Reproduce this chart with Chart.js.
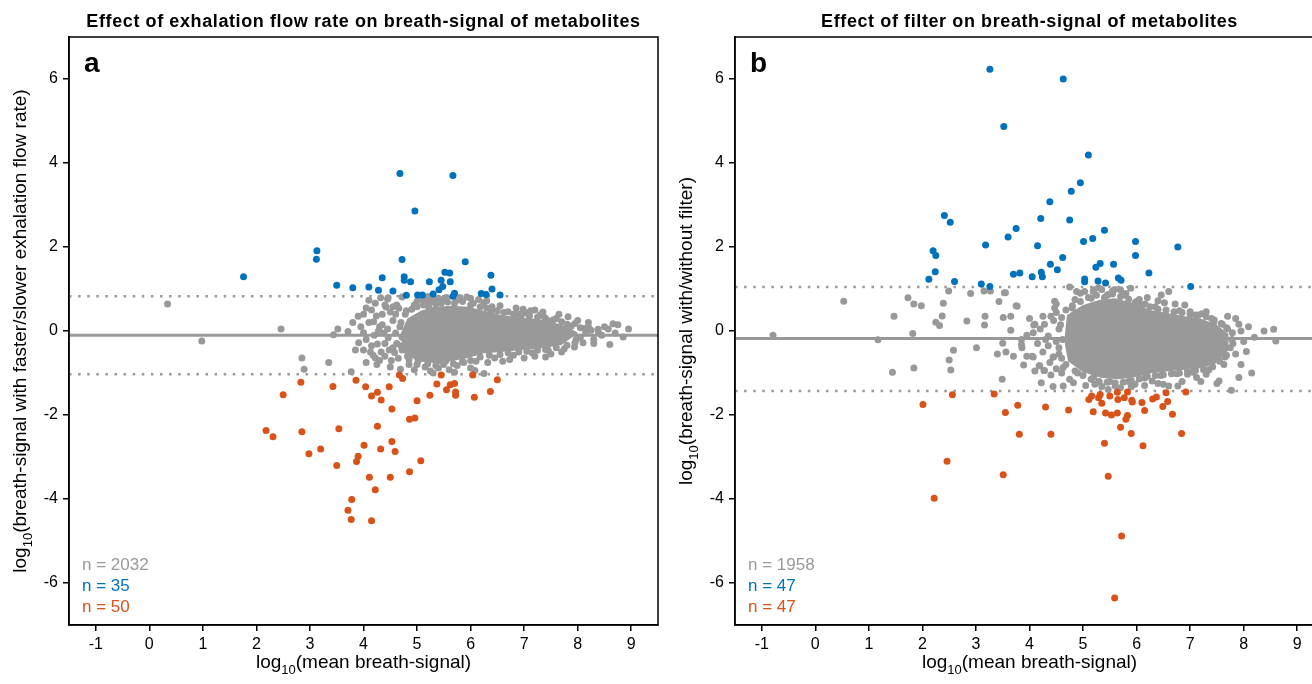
<!DOCTYPE html>
<html>
<head>
<meta charset="utf-8">
<script src="https://cdn.jsdelivr.net/npm/chart.js@4.4.1/dist/chart.umd.min.js"></script>
<style>
  html, body { margin: 0; padding: 0; background: #fff; overflow: hidden; }
  body { width: 1312px; height: 684px; position: relative; }
  canvas { position: absolute; top: 0; }
  #flowChart { left: 0; }
  #filterChart { left: 666px; }
</style>
</head>
<body>
<canvas id="flowChart" width="666" height="684"></canvas>
<canvas id="filterChart" width="666" height="684"></canvas>
<script>
// ---------------------------------------------------------------
// Breath-signal scatter plots (panel a: flow rate, panel b: filter)
// ---------------------------------------------------------------

const FONT = '"Liberation Sans", Arial, Helvetica, sans-serif';
const GRAY = '#999999'; const BLUE = '#0072BD'; const RED = '#D95319';

// Tick labels for both panels
const xTicks = [-1, 0, 1, 2, 3, 4, 5, 6, 7, 8, 9];
const yTicks = [-6, -4, -2, 0, 2, 4, 6];

// ---- Panel a: exhalation flow rate --------------------------------
// reference lines: [median, upper threshold, lower threshold]
const flowLines = [-0.1, 0.83, -1.03];
const flowCounts = ['n = 2032', 'n = 35', 'n = 50'];

// outline of the dense gray core (top edge / bottom edge)
const flowCoreTop = [[4.69,-0.07],[4.82,0.30],[5.07,0.48],[5.31,0.58],[5.63,0.60],[5.95,0.58],[6.25,0.48],[6.57,0.38],[6.89,0.33],[7.19,0.29],[7.50,0.22],[7.82,0.10],[8.01,-0.05]];
const flowCoreBottom = [[4.69,-0.07],[4.75,-0.52],[5.01,-0.72],[5.31,-0.76],[5.63,-0.72],[5.95,-0.64],[6.25,-0.53],[6.57,-0.50],[6.89,-0.46],[7.32,-0.41],[7.69,-0.34],[8.01,-0.05]];

const flowGray = [
  [0.34,0.64],[0.98,-0.24],[2.46,0.05],[2.85,-0.64],[2.89,-0.91],[3.35,-0.75],[3.44,-0.09],[3.52,0.05],[3.71,-0.01],[3.77,-0.97],
  [3.91,-0.28],[4.00,-0.04],[4.05,0.55],[4.10,0.73],[4.13,-0.50],[4.22,0.66],[4.24,0.36],[4.22,-0.64],[4.26,-0.31],[4.33,-0.50],
  [4.32,0.79],[4.46,0.79],[4.42,0.57],[4.46,-0.16],[4.50,-0.86],[4.55,0.58],[4.58,-0.51],[4.66,0.54],[4.69,-0.91],[4.72,0.81],
  [4.80,0.48],[4.82,-0.60],[4.91,-0.20],[5.00,0.71],[5.02,-0.71],[5.19,0.71],[5.22,0.57],[5.35,0.64],[5.44,-0.71],[5.54,-0.71],
  [5.57,0.69],[5.87,-0.75],[5.93,0.81],[6.08,-0.94],[6.25,-1.01],[6.25,0.67],[6.32,-0.75],[6.38,0.48],[6.73,-0.68],[6.88,0.41],
  [7.00,-0.64],[6.98,0.52],[7.12,0.48],[7.38,0.32],[7.47,0.24],[7.82,0.34],[7.80,0.16],[7.97,-0.20],[7.94,-0.38],[8.12,0.06],
  [8.38,0.04],[8.39,-0.04],[8.57,0.05],[8.66,0.17],[8.60,-0.32],[8.85,-0.14],[4.19,0.22],[4.35,0.15],[4.45,0.76],[5.21,0.82],
  [4.30,0.10],[4.40,-0.30],[4.55,0.25],[4.60,-0.05],[4.50,0.45],[4.65,-0.65],[4.40,-0.60],[4.55,-0.40],[4.20,-0.10],[4.10,0.20],
  [4.62,0.62],[4.35,0.40],[4.15,-0.35],[4.05,-0.20],[3.95,0.10],[4.70,0.20],[4.70,-0.35],
  [4.95,0.62],[5.10,0.75],[5.40,0.78],[5.75,0.74],[6.05,0.66],[6.40,0.58],[6.70,0.46],[7.05,0.42],[7.30,0.38],[7.60,0.30],
  [7.95,0.18],[8.20,0.10],[5.55,0.80],[6.15,0.75],
  [4.85,-0.80],[5.15,-0.86],[5.40,-0.88],[5.75,-0.82],[6.10,-0.72],[6.45,-0.64],[6.80,-0.58],[7.15,-0.52],[7.45,-0.46],[7.75,-0.42],
  [8.10,-0.28],[8.30,-0.20],[5.25,-0.95],[5.60,-0.92],
  // ring round the dense core
  [4.78,0.40],[4.90,0.52],[5.00,0.58],[5.12,0.62],[5.28,0.70],[5.45,0.66],[5.70,0.66],[5.85,0.70],[6.00,0.62],[6.18,0.58],
  [6.30,0.55],[6.50,0.48],[6.62,0.44],[6.80,0.40],[6.95,0.38],[7.10,0.36],[7.25,0.33],[7.40,0.30],[7.55,0.27],[7.70,0.22],
  [7.88,0.12],[8.05,0.08],
  [4.72,-0.45],[4.85,-0.68],[5.00,-0.80],[5.20,-0.78],[5.35,-0.82],[5.50,-0.80],[5.68,-0.78],[5.85,-0.72],[6.00,-0.70],[6.18,-0.62],
  [6.35,-0.58],[6.55,-0.56],[6.70,-0.52],[6.90,-0.50],[7.05,-0.48],[7.25,-0.46],[7.40,-0.44],[7.60,-0.40],[7.80,-0.34],[7.95,-0.28],
  // tail towards high signal
  [8.05,-0.15],[8.15,-0.05],[8.25,0.02],[8.45,-0.10],[8.50,0.10],[8.70,-0.05],[8.30,-0.30],[8.20,0.20],[8.00,0.25],[7.70,-0.50],
  [7.50,-0.55],[7.20,-0.60],[7.35,0.45],[7.65,0.40],[8.75,0.15],[8.95,0.05],
  // left flank
  [3.85,-0.45],[3.90,0.35],[4.00,0.40],[4.05,-0.75],[4.15,0.50],[4.25,-0.80],[4.28,0.00],[4.38,-0.05],[4.45,0.05],[4.48,-0.45],
  [4.52,-0.70],[4.60,0.40],[4.62,-0.30],[4.68,0.10],[4.72,-0.15],[4.40,0.62],[4.30,-0.70],[4.00,-0.45],[3.80,0.20],[4.18,-0.58],
  // sparser points towards the thresholds
  [5.05,0.80],[5.30,0.76],[5.48,0.74],[5.80,0.80],[6.00,0.78],[6.30,0.72],[6.55,0.60],[6.85,0.55],[7.20,0.50],
  [4.95,-0.92],[5.30,-1.00],[5.70,-0.98],[6.00,-0.88],[6.60,-0.72],[7.40,-0.62]
];

const flowBlue = [
  [1.76,1.29],[3.13,1.91],[3.12,1.71],[3.50,1.09],[3.80,1.03],[4.10,1.05],[4.28,0.97],[4.35,1.27],[4.68,3.75],[4.72,1.70],
  [4.76,1.29],[4.76,1.21],[4.80,0.85],[4.88,1.17],[4.96,2.86],[5.01,0.86],[5.10,0.86],[5.23,1.17],[5.41,0.98],[5.45,1.21],
  [5.48,1.06],[5.52,1.40],[5.61,1.38],[5.62,1.17],[5.67,3.70],[5.67,0.83],[5.70,0.90],[5.90,1.65],[6.20,0.89],[6.29,0.87],
  [6.38,1.33],[6.40,1.00],[6.55,0.86],[5.30,0.88],[4.55,0.95]
];

const flowRed = [
  [2.83,-1.22],[2.50,-1.52],[3.43,-1.32],[3.86,-1.17],[4.04,-1.33],[4.26,-1.46],[4.33,-1.64],[4.48,-1.33],[4.53,-1.86],[4.67,-1.05],
  [4.73,-1.13],[4.86,-2.10],[4.96,-2.07],[5.00,-1.66],[5.24,-1.53],[5.37,-1.26],[5.45,-1.05],[5.62,-1.28],[5.70,-1.25],[5.72,-1.45],
  [5.72,-1.53],[6.04,-1.05],[6.07,-1.58],[6.37,-1.44],[6.50,-1.16],[2.18,-2.37],[2.31,-2.52],[2.85,-2.40],[3.54,-2.33],[4.26,-2.27],
  [2.98,-2.92],[3.20,-2.81],[3.50,-3.20],[4.01,-2.72],[3.90,-2.98],[3.87,-3.11],[4.32,-2.81],[4.53,-2.63],[4.59,-2.87],[5.07,-3.09],
  [4.86,-3.35],[4.11,-3.48],[4.50,-3.48],[4.22,-3.78],[3.78,-4.01],[3.71,-4.27],[3.77,-4.49],[4.15,-4.52],[5.55,-1.40],[4.15,-1.55]
];

// ---- Panel b: filter ----------------------------------------------
const filterLines = [-0.18, 1.05, -1.43];
const filterCounts = ['n = 1958', 'n = 47', 'n = 47'];

const filterCoreTop = [[4.65,-0.24],[4.70,0.38],[5.00,0.62],[5.30,0.74],[5.60,0.78],[5.95,0.66],[6.25,0.50],[6.60,0.42],[6.90,0.35],[7.20,0.30],[7.50,0.14],[7.72,-0.08]];
const filterCoreBottom = [[4.65,-0.24],[4.72,-0.72],[5.00,-0.98],[5.35,-1.12],[5.66,-1.15],[5.97,-1.10],[6.29,-1.00],[6.60,-0.96],[6.91,-0.92],[7.22,-0.88],[7.47,-0.78],[7.72,-0.45],[7.72,-0.08]];

const filterGray = [
  [-0.79,-0.10],[0.53,0.71],[1.17,-0.21],[1.44,-0.98],[1.47,0.35],[1.73,0.79],[1.84,0.64],[1.98,0.60],[1.82,-0.06],[1.84,-0.88],
  [2.25,0.21],[2.32,0.13],[2.37,0.36],[2.39,0.66],[2.49,0.95],[2.58,-0.46],[2.50,-0.69],[2.53,-0.93],[2.83,0.24],[2.90,0.89],
  [3.01,-0.40],[3.15,0.95],[3.27,0.95],[3.17,0.35],[3.16,0.14],[3.43,0.70],[3.55,0.91],[3.51,0.32],[3.50,-0.29],[3.56,-0.50],
  [3.49,-1.15],[3.65,0.02],[3.77,0.59],[3.89,-0.81],[3.85,-0.33],[4.22,-1.23],[4.44,-1.32],[4.28,-0.94],[4.19,-0.83],[4.05,-0.60],
  [4.45,-0.62],[4.08,0.14],[4.28,0.16],[4.47,0.71],[4.47,0.55],
  [4.75,1.05],[4.88,0.94],[5.03,0.94],[5.19,0.94],[5.29,1.03],[5.35,0.99],[5.47,0.87],[5.59,0.99],[5.80,0.89],[5.89,1.02],
  [6.46,0.86],[6.60,0.94],[4.50,0.64],[4.85,0.75],[5.97,0.67],[6.16,0.64],[6.52,0.67],[6.72,0.64],[7.00,0.46],[7.22,0.41],
  [7.30,0.46],[7.44,0.20],[7.60,0.16],[7.79,-0.04],[7.91,0.16],[8.09,0.10],[8.38,0.00],[8.56,0.04],[8.60,-0.24],[8.05,-0.49],
  [7.91,-1.11],[7.77,-1.41],[7.63,-0.80],[7.50,-1.25],[7.54,-1.19],[7.30,-1.03],[7.12,-1.11],[6.95,-1.03],[6.77,-1.31],[6.60,-1.31],
  [6.50,-1.27],[6.29,-1.19],[5.97,-1.27],[5.60,-1.31],[5.47,-1.39],[5.22,-1.27],[4.82,-1.23],[4.63,-1.31],[4.75,-1.15],[4.63,-0.87],
  [4.27,-0.94],[4.18,-0.83],[4.07,-0.62],[4.44,-0.62],[4.55,-0.40],[3.85,-0.20],[3.86,-0.40],[4.07,-0.04],[4.10,0.16],[4.35,-0.12],
  [4.50,0.44],[4.60,0.32],[3.75,0.60],[3.53,0.91],
  [5.10,0.80],[5.45,0.85],[5.75,0.85],[6.05,0.75],[6.35,0.58],[6.80,0.48],[7.10,0.38],[7.40,0.30],[7.70,0.05],[7.80,-0.30],
  [7.65,-0.62],[7.35,-0.92],[7.05,-0.98],[6.75,-1.02],[6.45,-1.06],[6.15,-1.12],[5.85,-1.20],[5.50,-1.20],[5.20,-1.10],[4.90,-1.00],
  [4.60,-0.65],[4.55,0.05],[4.62,-0.20],[4.80,0.55],
  [4.20,0.05],[4.35,-0.35],[4.45,0.25],[4.25,-0.50],[3.95,-0.60],[4.50,-0.90],[4.40,-1.05],
  // ring round the dense core
  [4.68,0.50],[4.80,0.60],[4.95,0.70],[5.15,0.78],[5.25,0.85],[5.40,0.80],[5.55,0.88],[5.70,0.82],[5.85,0.76],[6.00,0.70],
  [6.10,0.62],[6.25,0.58],[6.40,0.52],[6.55,0.50],[6.70,0.46],[6.85,0.44],[7.00,0.40],[7.15,0.38],[7.30,0.34],[7.45,0.26],
  [7.58,0.18],[7.68,0.08],
  [4.68,-0.80],[4.85,-0.95],[5.00,-1.06],[5.15,-1.15],[5.30,-1.20],[5.45,-1.22],[5.60,-1.24],[5.75,-1.22],[5.90,-1.18],[6.05,-1.14],
  [6.20,-1.08],[6.35,-1.06],[6.50,-1.04],[6.65,-1.02],[6.80,-1.00],[6.95,-0.96],[7.10,-0.94],[7.25,-0.92],[7.42,-0.85],[7.55,-0.72],
  [7.68,-0.58],[7.75,-0.40],[7.78,-0.20],
  // left flank and right tail
  [4.55,-0.55],[4.58,0.15],[4.40,0.35],[4.30,-0.20],[4.15,-0.30],[4.38,-0.75],[4.60,-1.00],[4.50,-0.25],[4.25,0.35],[4.00,0.30],
  [3.95,-0.10],[4.10,-0.95],[3.70,-0.60],[3.65,0.35],[3.40,-0.55],
  [7.85,-0.55],[7.95,0.00],[8.00,-0.25],[8.20,-0.15],[7.95,-0.80],[8.15,-1.00],[7.70,0.35],[7.85,0.30],
  // sparser points towards the thresholds
  [4.95,0.90],[5.20,0.98],[5.55,0.95],[5.70,0.98],[6.20,0.80],[6.40,0.72],[6.90,0.62],
  [5.05,-1.30],[5.35,-1.32],[5.70,-1.35],[5.90,-1.33],[6.15,-1.30],[6.40,-1.25],[6.85,-1.20],[7.20,-1.20]
];

const filterBlue = [
  [3.26,6.23],[3.52,4.87],[4.38,3.08],[2.41,2.75],[2.52,2.59],[4.21,2.68],[3.75,2.44],[3.60,2.24],[3.18,2.05],[4.15,2.03],
  [2.20,1.91],[2.25,1.80],[4.39,1.59],[4.52,1.46],[2.24,1.41],[3.70,1.35],[3.82,1.38],[4.22,1.40],[4.24,1.29],[4.05,1.29],
  [2.12,1.23],[2.60,1.18],[3.10,1.12],[3.26,1.06],[4.63,6.00],[5.10,4.19],[4.95,3.53],[4.78,3.33],[4.75,2.64],[5.40,2.40],
  [5.18,2.20],[5.01,2.13],[5.98,2.13],[6.77,2.00],[5.98,1.80],[4.62,1.75],[5.32,1.61],[5.24,1.52],[5.57,1.59],[6.23,1.38],
  [5.03,1.24],[5.03,1.17],[5.28,1.19],[5.42,1.14],[5.66,1.26],[5.71,1.21],[7.01,1.06]
];

const filterRed = [
  [2.01,-1.75],[2.56,-1.52],[3.34,-1.50],[3.55,-1.94],[3.78,-1.77],[4.30,-1.81],[3.81,-2.46],[4.40,-2.46],[2.46,-3.10],[3.51,-3.42],
  [2.22,-3.98],[4.73,-1.88],[5.11,-1.63],[5.16,-1.55],[5.29,-1.59],[5.32,-1.51],[5.50,-1.55],[5.64,-1.46],[5.83,-1.45],[5.65,-1.63],
  [5.77,-1.59],[5.91,-1.65],[5.92,-1.69],[6.10,-1.70],[6.37,-1.57],[6.55,-1.47],[6.92,-1.45],[5.19,-1.92],[5.42,-1.95],[5.53,-2.00],
  [5.64,-1.95],[6.15,-1.89],[6.49,-1.80],[6.58,-1.68],[6.67,-1.98],[5.83,-2.01],[5.80,-2.10],[5.70,-2.29],[5.90,-2.44],[6.84,-2.44],
  [5.40,-2.67],[6.12,-2.73],[5.47,-3.46],[5.72,-4.88],[5.59,-6.36],[5.35,-1.72],[6.30,-1.62]
];

// ---------------------------------------------------------------
// helpers
// ---------------------------------------------------------------
const X_MIN = -1.5, X_MAX = 9.5, Y_MIN = -7, Y_MAX = 7;
const toXY = (arr) => arr.map(([x, y]) => ({ x, y }));
const hLine = (y) => [{ x: X_MIN, y }, { x: X_MAX, y }];

// "log" + subscript "10" + rest of the label
function drawLogLabel(ctx, cx, baseY, rest) {
    const big = '19px ' + FONT, small = '13px ' + FONT;
    ctx.font = big; const w1 = ctx.measureText('log').width; const w3 = ctx.measureText(rest).width;
    ctx.font = small; const w2 = ctx.measureText('10').width;
    let x = cx - (w1 + w2 + w3) / 2;
    ctx.textAlign = 'left'; ctx.textBaseline = 'alphabetic';
    ctx.font = big; ctx.fillText('log', x, baseY); x += w1;
    ctx.font = small; ctx.fillText('10', x, baseY + 6); x += w2;
    ctx.font = big; ctx.fillText(rest, x, baseY);
}

// box, title, panel letter, axis titles and the "n =" counts
function makeAnnotations(spec) {
    return {
        id: 'annot',
        afterDraw(chart) {
            const { ctx, chartArea: a } = chart;
            ctx.save();
            ctx.strokeStyle = '#000'; ctx.lineWidth = 1.5;
            ctx.strokeRect(a.left, a.top, a.right - a.left, a.bottom - a.top);
            ctx.fillStyle = '#000';
            ctx.font = 'bold 18px ' + FONT; ctx.textAlign = 'center'; ctx.textBaseline = 'alphabetic';
            if ('letterSpacing' in ctx) ctx.letterSpacing = '0.6px';
            ctx.fillText(spec.title, (a.left + a.right) / 2, 27);
            if ('letterSpacing' in ctx) ctx.letterSpacing = '0px';
            ctx.font = 'bold 28px ' + FONT; ctx.textAlign = 'left';
            ctx.fillText(spec.letter, a.left + 15, a.top + 35);
            drawLogLabel(ctx, (a.left + a.right) / 2, a.bottom + 43, '(mean breath-signal)');
            ctx.save();
            ctx.translate(a.left - 43, (a.top + a.bottom) / 2);
            ctx.rotate(-Math.PI / 2);
            drawLogLabel(ctx, 0, 0, spec.yLabel);
            ctx.restore();
            const colors = [GRAY, BLUE, RED];
            ctx.font = '17px ' + FONT; ctx.textAlign = 'left';
            spec.counts.forEach((t, i) => {
                ctx.fillStyle = colors[i];
                ctx.fillText(t, a.left + 13, a.bottom - 55 + i * 21);
            });
            ctx.restore();
        }
    };
}

function axisOptions(ticks, min, max, isX) {
    return {
        type: 'linear', min, max,
        afterBuildTicks: (s) => { s.ticks = ticks.map((v) => ({ value: v })); },
        afterFit: (s) => { if (isX) s.height = 59; else s.width = 69; },
        grid: { drawOnChartArea: false, drawTicks: true, tickLength: 6, color: '#000', lineWidth: 1.5 },
        border: { display: true, color: '#000', width: 1.5 },
        ticks: { color: '#000', font: { family: FONT, size: 16 }, padding: isX ? 4 : 5, autoSkip: false, maxRotation: 0 }
    };
}

function buildPanel(canvasId, p) {
    const pts = (data, color, order) => ({
        type: 'scatter', data: toXY(data), backgroundColor: color, borderWidth: 0,
        pointRadius: 3.5, pointHoverRadius: 3.5, order
    });
    const line = (y, dash, width) => ({
        type: 'line', data: hLine(y), borderColor: GRAY, borderWidth: width, borderDash: dash,
        pointRadius: 0, fill: false, order: 5
    });
    new Chart(document.getElementById(canvasId), {
        data: {
            datasets: [
                // 0,1: dense core of the gray cloud (filled between top and bottom edges)
                { type: 'line', data: toXY(p.coreTop), fill: '+1', backgroundColor: GRAY, borderWidth: 0, borderColor: 'rgba(0,0,0,0)', pointRadius: 0, tension: 0, order: 4 },
                { type: 'line', data: toXY(p.coreBottom), fill: false, borderWidth: 0, borderColor: 'rgba(0,0,0,0)', pointRadius: 0, tension: 0, order: 4 },
                line(p.lines[0], [], 3),
                line(p.lines[1], [2.5, 6.6], 2.5),
                line(p.lines[2], [2.5, 6.6], 2.5),
                pts(p.gray, GRAY, 3),
                pts(p.blue, BLUE, 1),
                pts(p.red, RED, 1)
            ]
        },
        options: {
            responsive: false, animation: false, devicePixelRatio: 1,
            layout: { padding: { top: 37, right: 8, bottom: 0, left: 0 } },
            plugins: { legend: { display: false }, tooltip: { enabled: false } },
            events: [],
            scales: { x: axisOptions(xTicks, X_MIN, X_MAX, true), y: axisOptions(yTicks, Y_MIN, Y_MAX, false) }
        },
        plugins: [makeAnnotations(p)]
    });
}

buildPanel('flowChart', {
    title: 'Effect of exhalation flow rate on breath-signal of metabolites', letter: 'a',
    yLabel: '(breath-signal with faster/slower exhalation flow rate)', counts: flowCounts,
    lines: flowLines, coreTop: flowCoreTop, coreBottom: flowCoreBottom, gray: flowGray, blue: flowBlue, red: flowRed
});

buildPanel('filterChart', {
    title: 'Effect of filter on breath-signal of metabolites', letter: 'b',
    yLabel: '(breath-signal with/without filter)', counts: filterCounts,
    lines: filterLines, coreTop: filterCoreTop, coreBottom: filterCoreBottom, gray: filterGray, blue: filterBlue, red: filterRed
});
</script>
</body>
</html>
